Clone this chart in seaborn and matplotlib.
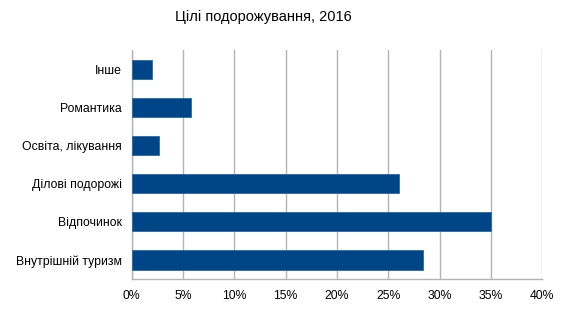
import numpy as np
import pandas as pd
import matplotlib
matplotlib.use("Agg")
import matplotlib.pyplot as plt
import seaborn as sns
from matplotlib.ticker import FixedLocator, NullFormatter

# Data (top to bottom)
categories = ["Інше", "Романтика", "Освіта, лікування", "Ділові подорожі",
              "Відпочинок", "Внутрішній туризм"]
shares = [2.0, 5.8, 2.7, 26.0, 35.0, 28.4]
x_ticks = [0, 5, 10, 15, 20, 25, 30, 35, 40]

df = pd.DataFrame({"Category": categories, "Share": shares})

sns.set_style("white")
plt.rcParams["font.family"] = ["Liberation Sans", "DejaVu Sans"]
plt.rcParams["text.color"] = "black"
plt.rcParams["xtick.labelcolor"] = "black"
plt.rcParams["ytick.labelcolor"] = "black"

fig = plt.figure(figsize=(5.65, 3.23), dpi=100)
ax = fig.add_axes([0.233, 0.136, 0.727, 0.709])

sns.barplot(data=df, y="Category", x="Share", orient="h", color="#004586",
            width=0.5, saturation=1, ax=ax, zorder=3,
            edgecolor="#2a6aa6", linewidth=0.6)

ax.set_xlim(0, 40)
ax.set_ylim(len(categories) - 0.5, -0.5)
ax.set_xticks(x_ticks)
ax.set_xticklabels([f"{t}%" for t in x_ticks], fontsize=8.8, color="black")
ax.set_yticks(range(len(categories)))
ax.set_yticklabels(categories, fontsize=8.8, color="black")
ax.yaxis.set_minor_locator(FixedLocator(np.arange(-0.5, len(categories), 1)))
ax.yaxis.set_minor_formatter(NullFormatter())
ax.tick_params(axis="y", which="major", length=0, pad=7)
ax.tick_params(axis="y", which="minor", length=5, color="#b3b3b3", width=1)
ax.tick_params(axis="x", which="major", length=5, color="#b3b3b3", width=1, pad=3)

ax.grid(axis="x", color="#b3b3b3", linewidth=1, zorder=0)
for side in ["top", "right"]:
    ax.spines[side].set_visible(False)
for side in ["left", "bottom"]:
    ax.spines[side].set_color("#b3b3b3")
    ax.spines[side].set_linewidth(1)

ax.set_xlabel("")
ax.set_ylabel("")
fig.suptitle("Цілі подорожування, 2016", fontsize=10.5, x=0.466, y=0.97,
             color="black")

fig.savefig("out.png", dpi=100)
